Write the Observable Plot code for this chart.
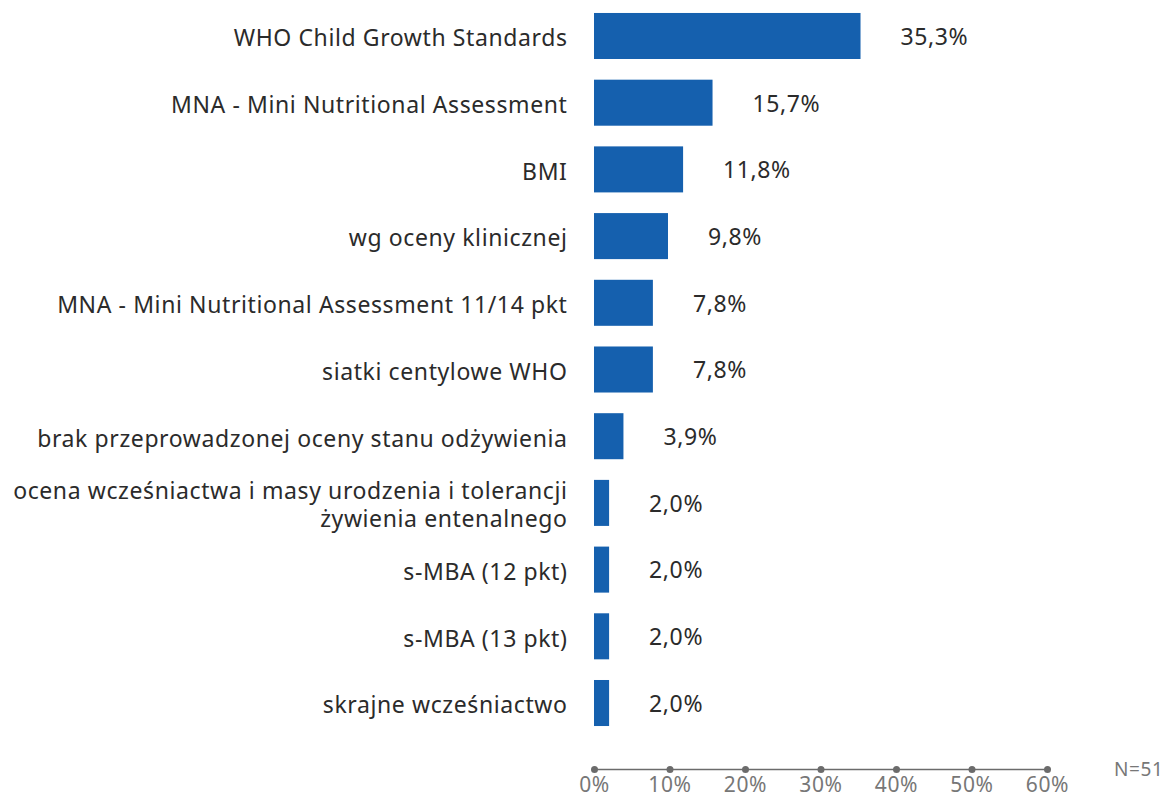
<!DOCTYPE html>
<html><head><meta charset="utf-8">
<script src="https://cdn.jsdelivr.net/npm/d3@7"></script>
<script src="https://cdn.jsdelivr.net/npm/@observablehq/plot@0.6"></script>
<style>
html,body{margin:0;padding:0;background:#fff;overflow:hidden}
#chart svg{display:block}
#chart svg text{letter-spacing:0.6px}
</style>
</head><body><div id="chart"></div>
<script>
const categories = [
  "WHO Child Growth Standards",
  "MNA - Mini Nutritional Assessment",
  "BMI",
  "wg oceny klinicznej",
  "MNA - Mini Nutritional Assessment 11/14 pkt",
  "siatki centylowe WHO",
  "brak przeprowadzonej oceny stanu odżywienia",
  "ocena wcześniactwa i masy urodzenia i tolerancji\nżywienia entenalnego",
  "s-MBA (12 pkt)",
  "s-MBA (13 pkt)",
  "skrajne wcześniactwo"
];
const values = [35.3, 15.7, 11.8, 9.8, 7.8, 7.8, 3.9, 2.0, 2.0, 2.0, 2.0];
const xTicks = [0, 10, 20, 30, 40, 50, 60];
const note = "N=51";

const data = categories.map((c, i) => ({category: c, value: values[i]}));
const fmt = v => v.toFixed(1).replace(".", ",") + "%";
const font = "'Noto Sans', sans-serif";

const chart = Plot.plot({
  width: 1166,
  height: 796,
  marginLeft: 594,
  marginRight: 119,
  marginTop: 0,
  marginBottom: 27,
  style: {fontFamily: font, background: "#fff", overflow: "visible"},
  x: {domain: [0, 60], axis: null},
  y: {domain: categories, range: [-7.7, 746.7], padding: 0.31, round: false, axis: null},
  marks: [
    Plot.barX(data, {x: "value", y: "category", fill: "#1560ae"}),
    Plot.text(data, {x: "value", y: "category", text: d => fmt(d.value), textAnchor: "start", dx: 39.5, dy: 1, fontSize: 23, fill: "#2b2b2b"}),
    Plot.axisY({tickSize: 0, tickPadding: 27, fontSize: 23, color: "#2b2b2b", lineHeight: 1.2, dy: 1, label: null}),
    Plot.frame({anchor: "bottom", stroke: "#6b6b6b", strokeWidth: 1.5}),
    Plot.dot(xTicks, {x: d => d, frameAnchor: "bottom", r: 3.5, fill: "#6b6b6b"}),
    Plot.axisX(xTicks, {anchor: "bottom", tickSize: 0, tickPadding: 8, fontSize: 21, color: "#777", tickFormat: d => d + "%", label: null}),
    Plot.text([note], {frameAnchor: "bottom-right", dx: 116, dy: 6, textAnchor: "end", fontSize: 19, fill: "#777"})
  ]
});
document.getElementById("chart").appendChild(chart);
</script>
</body></html>
